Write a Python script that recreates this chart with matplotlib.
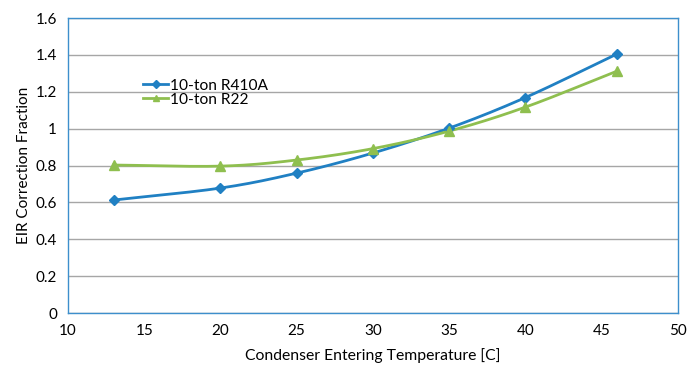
import numpy as np
import matplotlib as mpl
mpl.use('agg')
import matplotlib.pyplot as plt

## data
temps = [13, 20, 25, 30, 35, 40, 46]
eir_r410a = [0.613, 0.678, 0.759, 0.868, 1.003, 1.169, 1.405]
eir_r22 = [0.803, 0.797, 0.830, 0.892, 0.987, 1.117, 1.312]
xticks = [10, 15, 20, 25, 30, 35, 40, 45, 50]
yticks = [0, 0.2, 0.4, 0.6, 0.8, 1, 1.2, 1.4, 1.6]
ytick_labels = ['0', '0.2', '0.4', '0.6', '0.8', '1', '1.2', '1.4', '1.6']


## Excel-like smoothed line (Catmull-Rom through the points)
def smooth(x, y, n=30):
  x = np.asarray(x, float)
  y = np.asarray(y, float)
  px = np.concatenate([[2*x[0]-x[1]], x, [2*x[-1]-x[-2]]])
  py = np.concatenate([[2*y[0]-y[1]], y, [2*y[-1]-y[-2]]])
  xs, ys = [], []
  t = np.linspace(0, 1, n)
  for i in range(1, len(px)-2):
    for p, out in ((px, xs), (py, ys)):
      p0, p1, p2, p3 = p[i-1], p[i], p[i+1], p[i+2]
      c = 0.5*((2*p1) + (-p0+p2)*t + (2*p0-5*p1+4*p2-p3)*t**2 + (-p0+3*p1-3*p2+p3)*t**3)
      out.extend(c)
  return np.array(xs), np.array(ys)


plt.rcParams['font.family'] = ['Lato', 'DejaVu Sans']

fig = plt.figure(figsize=(6.89, 3.70), dpi=100)
ax = fig.add_axes([0.0987, 0.154, 0.885, 0.797])

blue = '#2080c3'
green = '#8fbf4f'

sx, sy = smooth(temps, eir_r410a)
ax.plot(sx, sy, color=blue, lw=2.0, zorder=3)
ax.plot(temps, eir_r410a, 'D', color=blue, ms=5, zorder=4)
sx, sy = smooth(temps, eir_r22)
ax.plot(sx, sy, color=green, lw=2.0, zorder=3)
ax.plot(temps, eir_r22, '^', color=green, ms=6.5, zorder=4)

# legend handles
ax.plot([], [], '-D', color=blue, lw=2.0, ms=4, label='10-ton R410A')
ax.plot([], [], '-^', color=green, lw=2.0, ms=5, label='10-ton R22')
ax.legend(loc='upper left', bbox_to_anchor=(0.113, 0.816), frameon=False,
          fontsize=11.2, handlelength=1.6, handletextpad=0.1, labelspacing=0.02,
          borderaxespad=0)

ax.set_xlim(10, 50)
ax.set_ylim(0, 1.6)
ax.set_xticks(xticks)
ax.set_yticks(yticks)
ax.set_yticklabels(ytick_labels)
ax.grid(axis='y', color='#a6a6a6', lw=1.0)
ax.set_axisbelow(True)
ax.tick_params(axis='both', length=0, labelsize=11, pad=8)
for s in ax.spines.values():
  s.set_color('#3d8fcc')
  s.set_linewidth(1.0)

ax.set_xlabel('Condenser Entering Temperature [C]', fontsize=11.3, labelpad=7)
ax.set_ylabel('EIR Correction Fraction', fontsize=11, labelpad=3)

fig.savefig('out.png', dpi=100)
